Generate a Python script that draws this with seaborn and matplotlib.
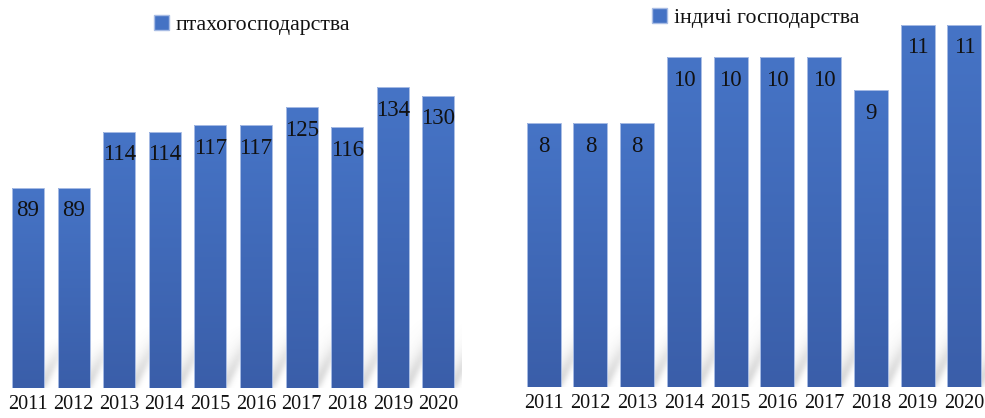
import numpy as np
import matplotlib
matplotlib.use("Agg")
import matplotlib.pyplot as plt
import seaborn as sns
from matplotlib.patches import Patch
from matplotlib.colors import LinearSegmentedColormap

# ---- data ----
years = ["2011", "2012", "2013", "2014", "2015", "2016", "2017", "2018", "2019", "2020"]
poultry_farms = [89, 89, 114, 114, 117, 117, 125, 116, 134, 130]
turkey_farms = [8, 8, 8, 10, 10, 10, 10, 9, 11, 11]
label_left = "птахогосподарства"
label_right = "індичі господарства"

sns.set_theme(style="white")
plt.rcParams["font.family"] = ["Liberation Serif", "DejaVu Serif"]

W, H = 985, 418
fig = plt.figure(figsize=(W / 100, H / 100), dpi=100)

BASE = "#4472C4"
grad_cmap = LinearSegmentedColormap.from_list("bar", ["#3A5EA9", "#4674C6"])


def px_axes(left, right, bottom_y, top_y):
    return fig.add_axes([left / W, 1 - bottom_y / H, (right - left) / W, (bottom_y - top_y) / H])


def blur1d(arr, sigma, axis):
    r = int(3 * sigma)
    k = np.exp(-0.5 * (np.arange(-r, r + 1) / sigma) ** 2)
    k /= k.sum()
    return np.apply_along_axis(lambda m: np.convolve(m, k, mode="same"), axis, arr)


def draw_panel(ax, values, ax_px, xlim, ylim, width, label, leg_xy):
    sns.barplot(x=years, y=values, ax=ax, color=BASE, width=width, saturation=1)
    ax.set_xlim(*xlim)
    ax.set_ylim(*ylim)
    ax_w_px, ax_h_px = ax_px
    ppx = ax_w_px / (xlim[1] - xlim[0])
    ppy = ax_h_px / (ylim[1] - ylim[0])

    bars = list(ax.patches)
    # --- soft perspective shadow behind bars (decoration) ---
    maxh = max(p.get_height() for p in bars) * ppy
    k, s, wdec = 0.24, 0.5, 8.0
    vmax = int(k * maxh + 20)
    umax = int(ax_w_px) + 10
    uu, vv = np.meshgrid(np.arange(umax) + 0.5, np.arange(vmax) + 0.5)
    inten = np.zeros_like(uu)
    for p in bars:
        a = (p.get_x() - xlim[0]) * ppx
        b = a + p.get_width() * ppx
        hs = k * p.get_height() * ppy
        edge = b + s * vv
        m = (uu >= a + s * vv) & (uu <= edge) & (vv <= hs)
        val = np.exp(-(edge - uu) / wdec) * (1 - vv / hs) ** 0.7
        inten = np.maximum(inten, np.where(m, val, 0))
    inten = blur1d(blur1d(inten, 3.0, 0), 3.0, 1)
    rgba = np.zeros(inten.shape + (4,))
    rgba[..., :3] = 0.40
    rgba[..., 3] = np.clip(inten, 0, 1) * 0.5
    ax.imshow(rgba, origin="lower", aspect="auto", interpolation="bilinear",
              extent=[xlim[0], xlim[0] + umax / ppx, 0, vmax / ppy], zorder=1)

    # --- gradient bars + labels ---
    grad = np.linspace(0, 1, 256).reshape(-1, 1)
    for p, v in zip(bars, values):
        x0, w, h = p.get_x(), p.get_width(), p.get_height()
        im = ax.imshow(grad, origin="lower", aspect="auto", cmap=grad_cmap,
                       extent=[x0, x0 + w, 0, h], zorder=2)
        im.set_clip_path(p)
        p.set_facecolor("none")
        p.set_edgecolor("#a8bce4")
        p.set_linewidth(0.7)
        p.set_zorder(3)
        ax.annotate(str(v), xy=(x0 + w / 2, h), xytext=(0, -23), textcoords="offset pixels",
                    ha="center", va="center", fontsize=16.5, color="#111111", zorder=4)

    ax.set_xlim(*xlim)
    ax.set_ylim(*ylim)
    ax.set_xlabel("")
    ax.set_ylabel("")
    ax.set_yticks([])
    ax.tick_params(axis="x", length=0, pad=5.5, labelsize=14.5, labelcolor="#111111")
    for sp in ax.spines.values():
        sp.set_visible(False)
    ax.grid(False)

    ax.legend(handles=[Patch(facecolor=BASE, edgecolor="#a8bce4", label=label)],
              loc="center left", bbox_to_anchor=(leg_xy[0] / W, 1 - leg_xy[1] / H),
              bbox_transform=fig.transFigure, frameon=False, fontsize=15.7,
              handlelength=0.7, handleheight=0.7, handletextpad=0.3,
              borderpad=0, borderaxespad=0, labelcolor="#111111")


ax1 = px_axes(5.2, 461.2, 387.7, 0)
ax2 = px_axes(520.3, 985, 386.7, 0)

draw_panel(ax1, poultry_farms, (456.0, 387.7), (-0.5, 9.5), (0, 387.7 / 2.244), 0.70,
           label_left, (154, 25))
draw_panel(ax2, turkey_farms, (464.7, 386.7), (-0.5, 9.44), (0, 386.7 / 32.92), 0.727,
           label_right, (652, 18))

fig.savefig("out.png", dpi=100)
